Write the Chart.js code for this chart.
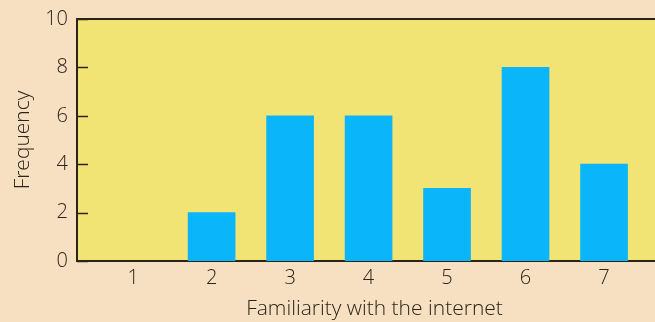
<!DOCTYPE html>
<html>
<head>
<meta charset="utf-8">
<script src="https://cdn.jsdelivr.net/npm/chart.js@4"></script>
<style>
  html, body { margin: 0; padding: 0; background: #f7dfc1; overflow: hidden; }
  #wrap { width: 655px; height: 322px; overflow: hidden; }
</style>
</head>
<body>
<!-- the plot runs on past the right edge, so the canvas is wider than the view -->
<div id="wrap"><canvas id="freqChart" width="672" height="322"></canvas></div>
<script>
// Familiarity score (x) and how many people gave it
const scores = [1, 2, 3, 4, 5, 6, 7];
const frequency = [0, 2, 6, 6, 3, 8, 4];
const yTicks = [0, 2, 4, 6, 8, 10];

const ink = "#2b2418";
const font = { family: "'Open Sans', 'DejaVu Sans', sans-serif", size: 20, weight: "300" };
const yFont = { ...font, lineHeight: 1 };
const titleFont = { family: "'Open Sans', 'DejaVu Sans', sans-serif", size: 21, weight: "300" };

// plot background, top border line and the short inward y ticks
const frame = {
  id: "frame",
  beforeDraw(chart) {
    const { ctx, chartArea: a } = chart;
    ctx.save();
    ctx.fillStyle = "#f1e474";
    ctx.fillRect(a.left, a.top, a.right - a.left, a.bottom - a.top);
    ctx.restore();
  },
  afterDraw(chart) {
    const { ctx, chartArea: a } = chart;
    const y = chart.scales.y;
    ctx.save();
    ctx.strokeStyle = ink;
    ctx.lineWidth = 2;
    ctx.beginPath();
    ctx.moveTo(a.left, a.top);
    ctx.lineTo(a.right, a.top);
    ctx.stroke();
    ctx.lineWidth = 1.5;
    yTicks.forEach(v => {
      const py = Math.round(y.getPixelForValue(v)) + 0.5;
      ctx.beginPath();
      ctx.moveTo(a.left, py);
      ctx.lineTo(a.left + 11, py);
      ctx.stroke();
    });
    ctx.restore();
  }
};

new Chart(document.getElementById("freqChart"), {
  type: "bar",
  data: {
    datasets: [{
      data: scores.map((s, i) => ({ x: s, y: frequency[i] })),
      backgroundColor: c => (c.raw && c.raw.y === 0 ? "rgba(0,0,0,0)" : "#0ab5f9"),
      borderWidth: 0,
      barThickness: 47,
    }],
  },
  options: {
    responsive: false,
    animation: false,
    layout: { padding: 0 },
    plugins: { legend: { display: false }, tooltip: { enabled: false } },
    scales: {
      x: {
        type: "linear",
        offset: false,
        min: 0.285,
        max: 7.866,
        grid: { display: false, drawTicks: false },
        border: { display: true, color: ink, width: 2 },
        ticks: { color: ink, font: font, padding: 5, autoSkip: false },
        afterBuildTicks: axis => { axis.ticks = scores.map(v => ({ value: v })); },
        afterFit: axis => { axis.height = 61; },
        title: {
          display: true,
          text: "Familiarity with the internet",
          color: ink,
          font: titleFont,
          padding: { top: 2, bottom: 0 },
        },
      },
      y: {
        min: 0,
        max: 10,
        grid: { display: false, drawTicks: false },
        border: { display: true, color: ink, width: 2 },
        ticks: { color: ink, font: yFont, padding: 9 },
        afterBuildTicks: axis => { axis.ticks = yTicks.map(v => ({ value: v })); },
        afterFit: axis => { axis.width = 77; },
        title: {
          display: true,
          text: "Frequency",
          color: ink,
          font: titleFont,
          padding: { top: 10, bottom: 0 },
        },
      },
    },
  },
  plugins: [frame],
});
</script>
</body>
</html>
